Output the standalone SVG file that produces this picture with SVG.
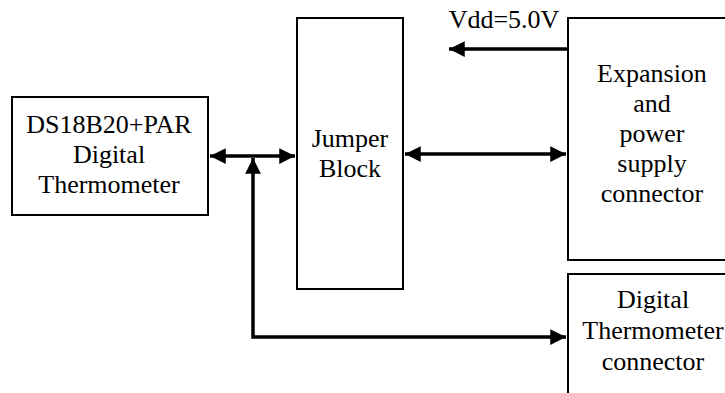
<svg xmlns="http://www.w3.org/2000/svg" width="725" height="393" viewBox="0 0 725 393">
<defs>
<marker id="ah" viewBox="0 0 10 10" refX="10" refY="5" markerWidth="4.5" markerHeight="4.5" orient="auto-start-reverse" markerUnits="strokeWidth">
<path d="M0,0 L10,5 L0,10 z" fill="#000"/>
</marker>
<style>
.box{fill:#fff;stroke:#000;stroke-width:2}
.t{font-size:26px;fill:#000;text-anchor:middle}
.c{fill:none;stroke:#000;stroke-width:3.5}
</style>
</defs>
<rect width="725" height="393" fill="#fff"/>
<g font-family="Liberation Serif, Times New Roman, DejaVu Serif, serif">
<g id="thermometer">
<rect class="box" x="12" y="97" width="196" height="118"/>
<text class="t" x="109" y="133">DS18B20+PAR</text>
<text class="t" x="109" y="163">Digital</text>
<text class="t" x="109" y="193">Thermometer</text>
</g>
<g id="jumper">
<rect class="box" x="297" y="18" width="106" height="271"/>
<text class="t" x="350" y="147">Jumper</text>
<text class="t" x="350" y="177">Block</text>
</g>
<g id="expansion">
<rect class="box" x="568" y="18" width="170" height="242"/>
<text class="t" x="652" y="82">Expansion</text>
<text class="t" x="652" y="112">and</text>
<text class="t" x="652" y="142">power</text>
<text class="t" x="652" y="172">supply</text>
<text class="t" x="652" y="202">connector</text>
</g>
<g id="dtconnector">
<rect class="box" x="568" y="274" width="170" height="130"/>
<text class="t" x="653" y="308">Digital</text>
<text class="t" x="653" y="339">Thermometer</text>
<text class="t" x="653" y="370">connector</text>
</g>
<g id="vdd-label">
<text class="t" x="504" y="28">Vdd=5.0V</text>
</g>
</g>
<g id="connectors">
<line class="c" x1="210" y1="156" x2="295" y2="156" marker-start="url(#ah)" marker-end="url(#ah)"/>
<line class="c" x1="405" y1="154" x2="566" y2="154" marker-start="url(#ah)" marker-end="url(#ah)"/>
<line class="c" x1="568" y1="49" x2="449" y2="49" marker-end="url(#ah)"/>
<polyline class="c" points="253,158 253,337 566,337" marker-start="url(#ah)" marker-end="url(#ah)"/>
</g>
</svg>
